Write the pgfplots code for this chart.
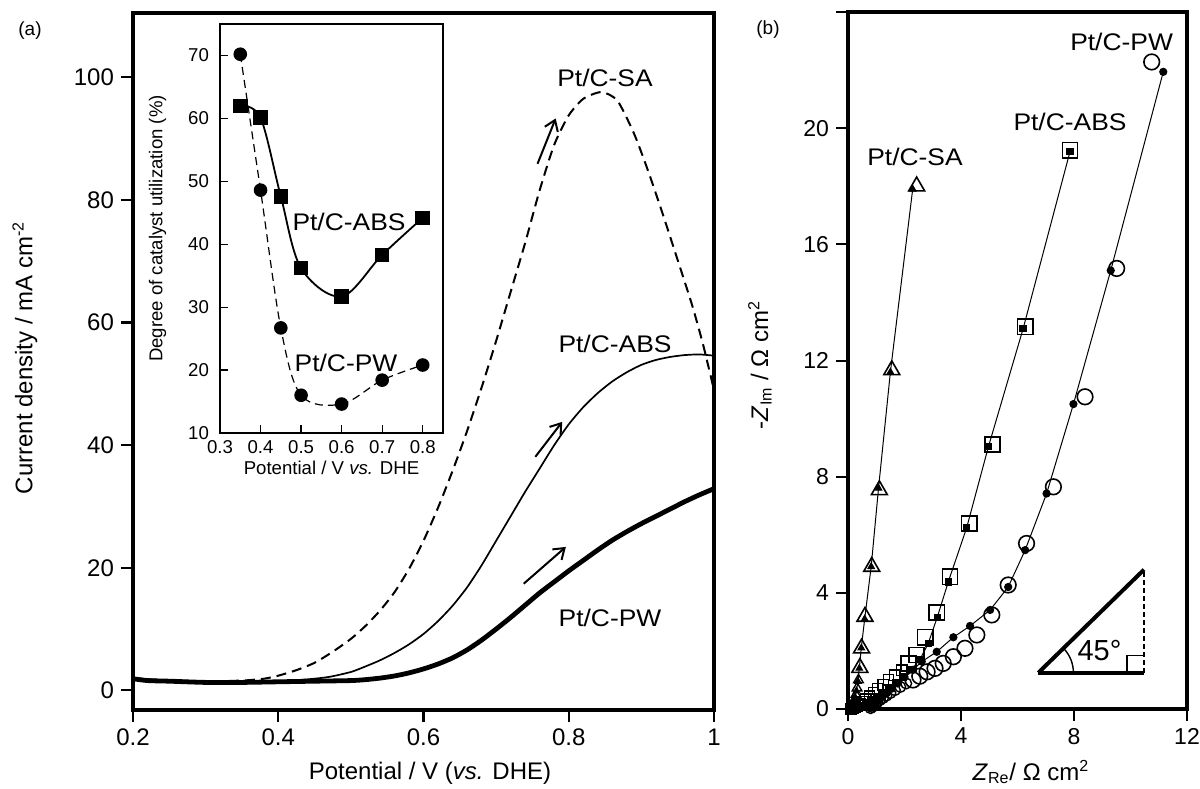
\documentclass[border=0pt]{standalone}
\usepackage{fontspec}
\setmainfont{Liberation Sans}
\newfontfamily\wide[FakeStretch=1.1]{Liberation Sans}
\usepackage{pgfplots}
\pgfplotsset{compat=1.18}
\usetikzlibrary{arrows.meta}

\newcommand\lab[1]{{\wide\fontsize{12}{14}\selectfont #1}}

\begin{document}
\begin{tikzpicture}
\useasboundingbox (0,0) rectangle (600pt,394pt);

% ---- (a) main
\begin{axis}[at={(66.5pt,39pt)},anchor=south west,scale only axis,
 width=290.5pt,height=348.5pt,
 xmin=0.2,xmax=1,ymin=-3.2,ymax=110.5,
 xtick={0.2,0.4,0.6,0.8,1},ytick={0,20,40,60,80,100},
 axis line style={line width=1.6pt},
 tick align=outside,xtick pos=bottom,ytick pos=left,
 major tick length=6pt,tick style={line width=1.1pt,black},
 tick label style={font=\fontsize{12}{14}\selectfont},
 /pgf/number format/assume math mode=true,
 clip=false]
 \addplot[black,line width=1pt,dash pattern=on 5pt off 3pt,smooth,tension=0.4] coordinates {
  (0.2,2.0) (0.25,1.6) (0.3,1.5) (0.35,1.6) (0.38,1.9) (0.4,2.4) (0.425,3.3)
  (0.45,4.5) (0.475,6.3) (0.5,8.4) (0.52,10.5) (0.54,13.0) (0.56,16.0)
  (0.58,19.8) (0.6,24.4) (0.62,29.8) (0.64,35.8) (0.66,42.3) (0.68,49.4)
  (0.7,57.0) (0.72,65.0) (0.74,73.0) (0.76,81.6) (0.78,89.0) (0.8,93.8)
  (0.82,96.5) (0.845,97.6) (0.867,96.2) (0.89,90.8) (0.91,84.5) (0.93,77.5)
  (0.95,70.2) (0.97,62.8) (0.985,56.4) (1.0,49)};
 \addplot[black,line width=0.85pt,smooth,tension=0.4] coordinates {
  (0.2,1.8) (0.25,1.5) (0.3,1.4) (0.35,1.4) (0.4,1.5) (0.44,1.8) (0.47,2.2)
  (0.5,3.0) (0.52,3.9) (0.54,4.9) (0.56,6.1) (0.58,7.5) (0.6,9.2) (0.62,11.3)
  (0.64,13.8) (0.66,16.8) (0.68,20.4) (0.7,24.4) (0.72,28.4) (0.74,32.4)
  (0.76,36.2) (0.78,40.0) (0.8,43.4) (0.82,46.2) (0.84,48.5) (0.86,50.4)
  (0.88,51.9) (0.9,53.1) (0.92,53.9) (0.94,54.4) (0.96,54.7) (0.98,54.8) (1.0,54.6)};
 \addplot[black,line width=2.4pt,smooth,tension=0.4] coordinates {
  (0.2,1.9) (0.22,1.6) (0.25,1.5) (0.3,1.3) (0.35,1.3) (0.4,1.4) (0.45,1.5)
  (0.5,1.6) (0.52,1.75) (0.54,2.0) (0.56,2.35) (0.58,2.85) (0.6,3.5) (0.62,4.3)
  (0.64,5.3) (0.66,6.6) (0.68,8.2) (0.7,10.0) (0.72,11.9) (0.74,13.9)
  (0.76,15.9) (0.78,17.7) (0.8,19.5) (0.82,21.2) (0.84,22.9) (0.86,24.5)
  (0.88,25.9) (0.9,27.2) (0.92,28.4) (0.94,29.6) (0.96,30.8) (0.98,31.9) (1.0,32.9)};
 \draw[line width=1pt,-{Straight Barb[length=5pt,width=7pt]}] (0.757,85.9) -- (0.782,93.3);
 \draw[line width=1pt,-{Straight Barb[length=5pt,width=7pt]}] (0.754,38.1) -- (0.791,43.8);
 \draw[line width=1pt,-{Straight Barb[length=5pt,width=7pt]}] (0.738,17.4) -- (0.796,23.4);
\end{axis}

% ---- inset
\begin{axis}[at={(110pt,177.5pt)},anchor=south west,scale only axis,
 width=111.5pt,height=204.5pt,
 xmin=0.3,xmax=0.85,ymin=10,ymax=75,
 xtick={0.3,0.4,0.5,0.6,0.7,0.8},ytick={10,20,30,40,50,60,70},
 axis background/.style={fill=white},
 axis line style={line width=0.8pt},
 tick align=inside,xtick pos=bottom,ytick pos=left,
 major tick length=4pt,tick style={line width=0.6pt,black},
 tick label style={font=\fontsize{9.3}{11}\selectfont},
 yticklabel style={xshift=-2pt},
 /pgf/number format/assume math mode=true,
 xlabel={Potential / V \textit{vs.} DHE},
 ylabel={Degree of catalyst utilization (\%)},
 label style={font=\fontsize{9.3}{11}\selectfont},
 xlabel style={yshift=3pt},
 ylabel style={at={(axis description cs:-0.28,0.5)},anchor=center}]
 \addplot[black,line width=0.6pt,dash pattern=on 4pt off 2.5pt,smooth,tension=0.55,
  mark=*,mark size=3.1pt,mark options={solid}] coordinates {
  (0.35,70.2) (0.4,48.6) (0.45,26.7) (0.5,16.0) (0.6,14.6) (0.7,18.4) (0.8,20.8)};
 \addplot[black,line width=0.9pt,smooth,tension=0.55,
  mark=square*,mark size=3.2pt] coordinates {
  (0.35,62.0) (0.4,60.1) (0.45,47.6) (0.5,36.2) (0.6,31.7) (0.7,38.3) (0.8,44.2)};
\end{axis}

% ---- (b)
\begin{axis}[at={(424pt,39.5pt)},anchor=south west,scale only axis,
 width=169.5pt,height=348.5pt,
 xmin=0,xmax=12,ymin=0,ymax=24,
 xtick={0,4,8,12},ytick={0,4,8,12,16,20,24},
 yticklabels={0,4,8,12,16,20,{}},
 axis line style={line width=2pt},
 tick align=outside,xtick pos=bottom,ytick pos=left,
 major tick length=6pt,tick style={line width=1pt,black},
 tick label style={font=\fontsize{11.5}{13}\selectfont},
 /pgf/number format/assume math mode=true,
 clip=false]
 % Pt/C-SA
 \addplot[only marks,mark=triangle,mark size=4.6pt,mark options={line width=0.8pt}] coordinates {
  (2.43,18.0) (1.55,11.67) (1.11,7.54) (0.84,4.9) (0.60,3.18) (0.48,2.09) (0.42,1.42)};
 \addplot[only marks,mark=triangle,mark size=2.8pt,mark options={line width=0.7pt}] coordinates {
  (0.37,1.0) (0.32,0.72) (0.28,0.5) (0.24,0.34) (0.2,0.22) (0.17,0.13) (0.14,0.07) (0.11,0.03)};
 \addplot[black,line width=0.5pt,mark=triangle*,mark size=1.9pt] coordinates {
  (2.29,17.9) (1.5,11.6) (1.08,7.6) (0.82,4.9) (0.59,3.1) (0.47,2.1) (0.4,1.4)
  (0.35,0.95) (0.3,0.62) (0.25,0.38) (0.2,0.2) (0.15,0.09) (0.1,0.03) (0.05,0.0)};
 % Pt/C-ABS
 \addplot[only marks,mark=square,mark size=3.8pt,mark options={line width=0.8pt}] coordinates {
  (7.86,19.24) (6.27,13.16) (5.11,9.11) (4.29,6.39) (3.61,4.55) (3.14,3.32)
  (2.73,2.47) (2.43,1.86) (2.14,1.57)};
 \addplot[only marks,mark=square,mark size=2.6pt,mark options={line width=0.7pt}] coordinates {
  (1.9,1.34) (1.66,1.17) (1.43,1.0) (1.24,0.84) (1.06,0.7) (0.9,0.56) (0.76,0.44)
  (0.63,0.34) (0.52,0.25) (0.42,0.17) (0.33,0.11) (0.25,0.06) (0.18,0.03) (0.12,0.01)};
 \addplot[black,line width=0.5pt,mark=square*,mark size=1.6pt] coordinates {
  (7.86,19.2) (6.2,13.1) (4.97,9.03) (4.2,6.24) (3.55,4.38) (3.16,3.16) (2.84,2.26)
  (2.55,1.71) (2.25,1.36) (1.97,1.1) (1.7,0.9) (1.45,0.72) (1.22,0.57) (1.0,0.43)
  (0.8,0.31) (0.62,0.21) (0.46,0.13) (0.32,0.07) (0.2,0.03) (0.1,0.0)};
 % Pt/C-PW
 \addplot[only marks,mark=o,mark size=3.9pt,mark options={line width=0.8pt}] coordinates {
  (10.75,22.28) (9.51,15.17) (8.39,10.75) (7.27,7.65) (6.32,5.7) (5.67,4.27)
  (5.09,3.24) (4.56,2.55) (4.14,2.09) (3.73,1.8) (3.37,1.57) (3.08,1.4) (2.8,1.28)
  (2.54,1.13) (2.3,1.0)};
 \addplot[only marks,mark=o,mark size=2.7pt,mark options={line width=0.7pt}] coordinates {
  (2.06,0.88) (1.85,0.76) (1.66,0.65) (1.5,0.55) (1.36,0.46) (1.24,0.38) (1.13,0.31)
  (1.04,0.24) (0.96,0.18) (0.9,0.12) (0.85,0.07) (0.8,0.03)};
 \addplot[black,line width=0.5pt,mark=*,mark size=1.8pt] coordinates {
  (11.16,21.94) (9.3,15.1) (7.98,10.5) (7.03,7.42) (6.27,5.47) (5.67,4.2) (5.03,3.41)
  (4.32,2.86) (3.73,2.47) (3.14,1.97) (2.61,1.63) (2.3,1.35) (2.0,1.1) (1.75,0.88)
  (1.55,0.7) (1.38,0.55) (1.22,0.42) (1.08,0.3) (0.97,0.2) (0.88,0.11) (0.8,0.04)};
 % 45 degree triangle
 \draw[line width=2pt] (6.74,1.25) -- (10.48,4.8);
 \draw[line width=2pt] (6.74,1.25) -- (10.48,1.25);
 \draw[line width=0.6pt,dash pattern=on 2.5pt off 1.5pt] (10.48,1.25) -- (10.48,4.8);
 \draw[line width=0.7pt] (9.88,1.25) |- (10.48,1.835);
 \draw[line width=0.7pt] (6.74,1.25) ++(0:17.5pt) arc[start angle=0,end angle=44,radius=17.5pt];
 \node[font=\fontsize{14.5}{16}\selectfont] at (8.9,2.0) {45°};
\end{axis}

% ---- text
\node[font=\fontsize{9.5}{11}\selectfont] at (15pt,378.5pt) {(a)};
\node[font=\fontsize{9.5}{11}\selectfont] at (384pt,379pt) {(b)};
\node[rotate=90,font=\fontsize{12}{14}\selectfont] at (12.5pt,215pt) {Current density / mA cm\textsuperscript{-2}};
\node[font=\fontsize{12}{14}\selectfont] at (215pt,7.5pt) {Potential / V (\textit{vs.} DHE)};
\node[rotate=90,font=\fontsize{12}{14}\selectfont] at (380pt,211.5pt) {-\textit{Z}\textsubscript{Im} / Ω cm\textsuperscript{2}};
\node[anchor=base,font=\fontsize{12}{14}\selectfont] at (515.5pt,4pt) {\textit{Z}\textsubscript{Re}/ Ω cm\textsuperscript{2}};
\node at (302.5pt,355pt) {\lab{Pt/C-SA}};
\node at (307.5pt,222pt) {\lab{Pt/C-ABS}};
\node at (305pt,85pt) {\lab{Pt/C-PW}};
\node at (174.5pt,283pt) {\lab{Pt/C-ABS}};
\node at (173pt,212.5pt) {\lab{Pt/C-PW}};
\node at (457.5pt,315.6pt) {\lab{Pt/C-SA}};
\node at (535pt,333.2pt) {\lab{Pt/C-ABS}};
\node at (560.8pt,373.2pt) {\lab{Pt/C-PW}};
\end{tikzpicture}
\end{document}
